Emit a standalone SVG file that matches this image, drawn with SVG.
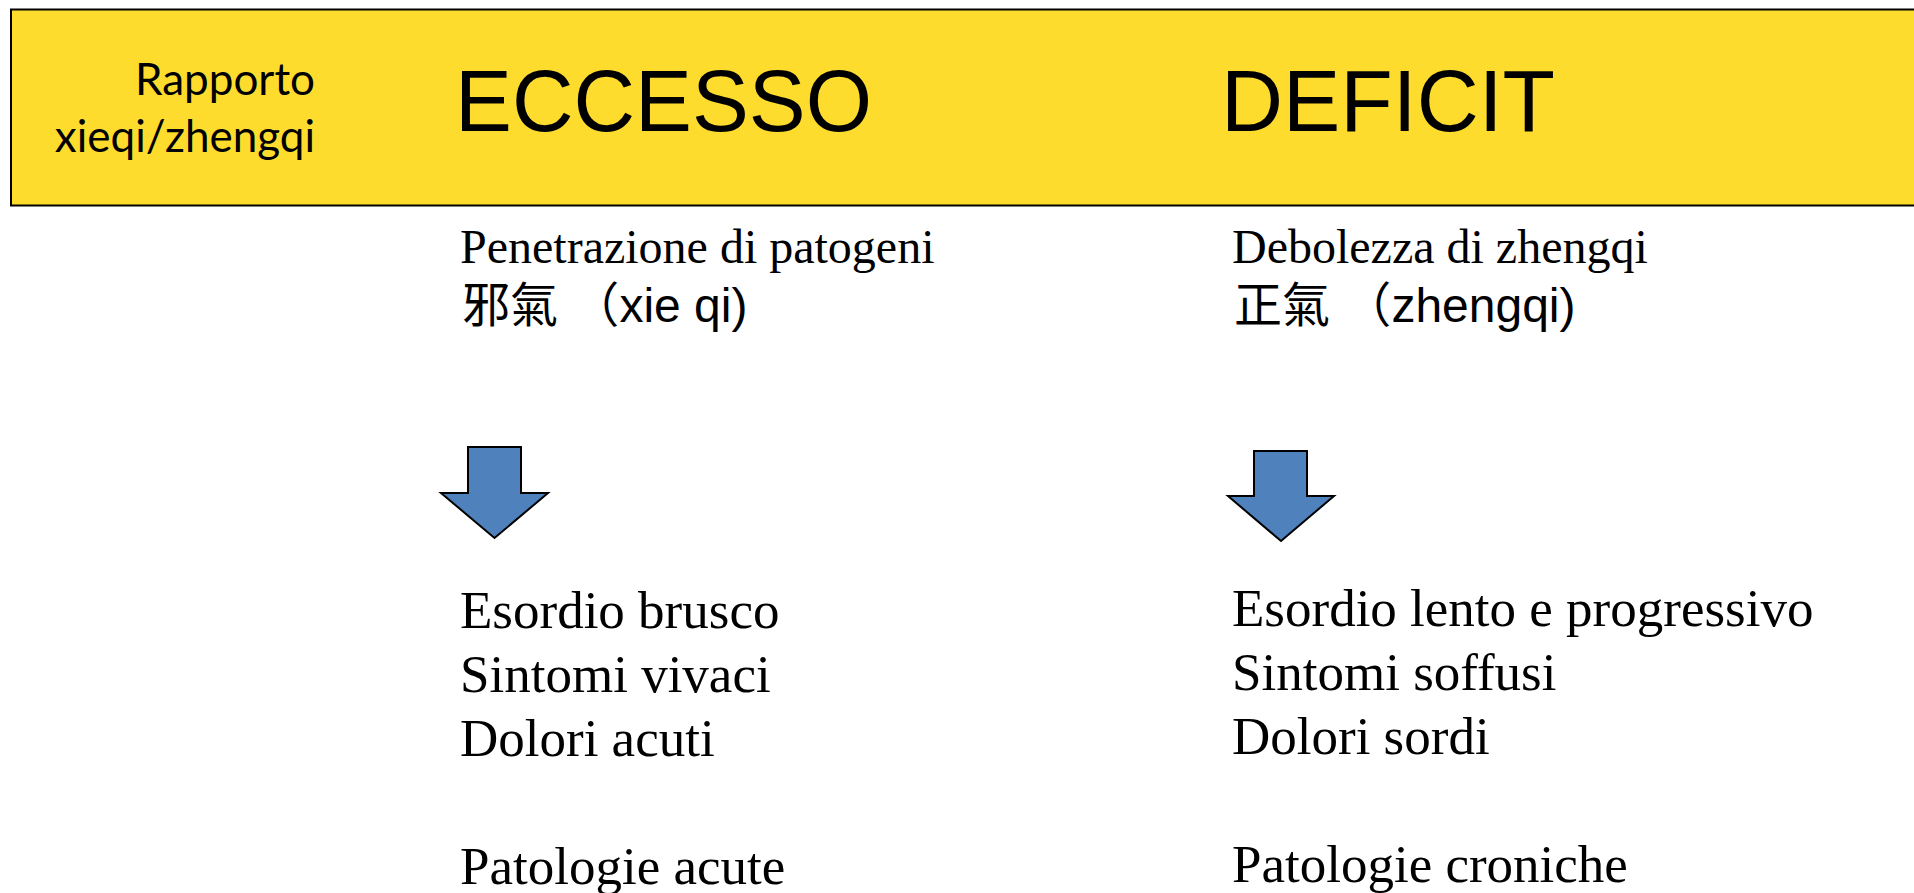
<svg xmlns="http://www.w3.org/2000/svg" width="1914" height="893" viewBox="0 0 1914 893">
<style>
.hdr{font-family:"Liberation Sans",Arial,sans-serif;font-size:88px;fill:#000}
.lbl{font-family:Lato,"Open Sans",sans-serif;font-size:44px;fill:#000}
.tm{font-family:"Liberation Serif","Times New Roman",serif;fill:#000}
.cjk{font-family:"Liberation Sans","Noto Sans CJK TC","Noto Sans CJK SC",sans-serif;font-size:48px;fill:#000}
.han{font-family:"Noto Sans CJK TC","Noto Sans CJK SC",sans-serif}
.arrow{fill:#4F81BD;stroke:#000;stroke-width:2;stroke-linejoin:miter}
</style>
<rect width="1914" height="893" fill="#fff"/>
<g id="header">
<rect x="11" y="9.5" width="1920" height="196" fill="#FEDC2D" stroke="#000" stroke-width="2"/>
<text class="lbl" x="315" y="95" text-anchor="end">Rapporto</text>
<text class="lbl" x="315" y="152" text-anchor="end">xieqi/zhengqi</text>
<text class="hdr" x="455" y="131" textLength="417" lengthAdjust="spacingAndGlyphs">ECCESSO</text>
<text class="hdr" x="1221" y="131" textLength="334" lengthAdjust="spacingAndGlyphs">DEFICIT</text>
</g>
<g id="eccesso-cause">
<text class="tm" x="460" y="263" font-size="48">Penetrazione di patogeni</text>
<text class="cjk" x="462" y="322"><tspan class="han">邪氣</tspan> <tspan class="han">（</tspan>xie qi)</text>
</g>
<g id="deficit-cause">
<text class="tm" x="1232" y="263" font-size="48">Debolezza di zhengqi</text>
<text class="cjk" x="1234" y="322"><tspan class="han">正氣</tspan> <tspan class="han">（</tspan>zhengqi)</text>
</g>
<g id="connectors">
<path class="arrow" d="M468,447 H521 V493 H548 L494.5,538 L441,493 H468 Z"/>
<path class="arrow" d="M1254,451 H1307 V496 H1334 L1281,541 L1228,496 H1254 Z"/>
</g>
<g id="eccesso-effects" class="tm" font-size="53">
<text x="460" y="628">Esordio brusco</text>
<text x="460" y="692">Sintomi vivaci</text>
<text x="460" y="756">Dolori acuti</text>
<text x="460" y="884">Patologie acute</text>
</g>
<g id="deficit-effects" class="tm" font-size="53">
<text x="1232" y="626">Esordio lento e progressivo</text>
<text x="1232" y="690">Sintomi soffusi</text>
<text x="1232" y="754">Dolori sordi</text>
<text x="1232" y="882">Patologie croniche</text>
</g>
</svg>
